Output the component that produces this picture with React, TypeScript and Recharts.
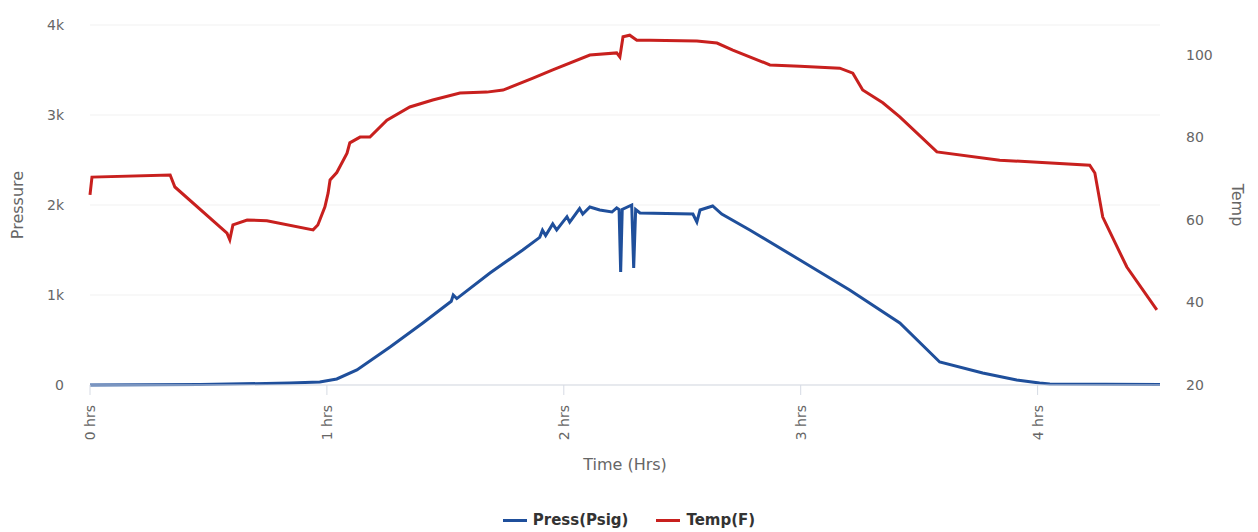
import React from "react";
import { CartesianGrid, Legend, Line, LineChart, XAxis, YAxis } from "recharts";

// time in minutes from start
const pressTime = [
  0, 27.9, 50.6, 58.2, 62.5, 67.6, 76.0, 84.3, 91.5, 92.0, 92.9, 101.3, 109.6,
  113.9, 114.6, 115.4, 117.2, 118.2, 120.8, 121.5, 124.0, 124.8, 126.6, 129.1,
  132.2, 133.4, 134.0, 134.4, 134.8, 137.2, 137.7, 138.2, 139.3, 152.7, 153.7,
  154.5, 157.7, 160.0, 167.1, 179.8, 192.4, 205.1, 215.2, 226.1, 234.7, 240.5,
  243.1, 271,
];
const pressValue = [
  0, 5, 22, 33, 67, 167, 422, 689, 930, 1000, 960, 1244, 1500,
  1640, 1720, 1660, 1790, 1722, 1870, 1810, 1960, 1900, 1978, 1944,
  1922, 1967, 1950, 1256, 1950, 2000, 1300, 1950, 1911, 1900, 1811,
  1944, 1989, 1900, 1722, 1389, 1056, 689, 256, 133, 56, 22,
  11, 5,
];

const tempTime = [
  0, 0.5, 20.3, 21.5, 34.7, 35.4, 36.2, 39.8, 44.8, 56.5, 57.7, 58.2, 59.5,
  60.3, 60.8, 62.5, 65.1, 65.8, 68.4, 70.9, 75.2, 81.0, 86.8, 93.7, 100.5,
  104.6, 112.2, 117.2, 126.6, 133.4, 134.2, 135.0, 136.7, 138.5, 141.8, 153.7,
  158.8, 162.8, 172.2, 179.8, 189.9, 193.2, 195.7, 200.8, 205.1, 214.5, 230.4,
  253.2, 254.5, 256.5, 262.6, 270.2,
];
const tempValue = [
  66.1, 70.4, 70.9, 68.0, 56.8, 55.2, 58.8, 60.0, 59.8, 57.6, 58.8, 60.0, 63.2,
  66.5, 69.7, 71.5, 76.2, 78.7, 80.1, 80.1, 84.2, 87.4, 89.1, 90.8, 91.0,
  91.5, 94.4, 96.4, 100.0, 100.5, 99.5, 104.4, 104.8, 103.6, 103.6, 103.4,
  102.9, 101.2, 97.6, 97.3, 96.8, 95.6, 91.5, 88.4, 85.0, 76.5, 74.5,
  73.3, 71.4, 60.7, 48.6, 38.2,
];

const hourTicks = [0, 60, 120, 180, 240];
const pressureTicks = [0, 1000, 2000, 3000, 4000];
const tempTicks = [20, 40, 60, 80, 100];

const series = [
  { name: "Press(Psig)", color: "#1f4f9b" },
  { name: "Temp(F)", color: "#c8201e" },
];

const pressData = pressTime.map((t, i) => ({ t, press: pressValue[i] }));
const tempData = tempTime.map((t, i) => ({ t, temp: tempValue[i] }));

const font = "'DejaVu Sans', sans-serif";
const textColor = "#666";

function HourTick(props: any) {
  const { x, y, payload } = props;
  return (
    <g>
      <line x1={x} x2={x} y1={y - 8} y2={y + 2} stroke="#d6dbe4" />
      <text
        x={0}
        y={0}
        transform={`translate(${x + 5},${y + 12}) rotate(-90)`}
        textAnchor="end"
        fill={textColor}
        fontSize={14}
        fontFamily={font}
      >
        {`${payload.value / 60} hrs`}
      </text>
    </g>
  );
}

function renderLegend() {
  return (
    <div
      style={{
        display: "flex",
        justifyContent: "center",
        alignItems: "center",
        gap: 28,
        height: 24,
        fontFamily: font,
        fontWeight: "bold",
        fontSize: 15,
        color: "#333",
      }}
    >
      {series.map((s) => (
        <span key={s.name} style={{ display: "flex", alignItems: "center" }}>
          <span style={{ width: 24, height: 3, background: s.color, marginRight: 6 }} />
          {s.name}
        </span>
      ))}
    </div>
  );
}

export default function App() {
  return (
    <LineChart width={1242} height={524} margin={{ top: 17, right: 0, bottom: 0, left: 0 }}>
      <CartesianGrid yAxisId="left" vertical={false} stroke="#f1f1f1" />
      <XAxis
        dataKey="t"
        type="number"
        domain={[0, 271]}
        ticks={hourTicks}
        height={123}
        tick={<HourTick />}
        tickLine={false}
        axisLine={{ stroke: "#d6dbe4" }}
        allowDuplicatedCategory={false}
        label={{
          value: "Time (Hrs)",
          position: "insideBottom",
          offset: 38,
          fill: textColor,
          fontSize: 16,
          fontFamily: font,
        }}
      />
      <YAxis
        yAxisId="left"
        width={82}
        domain={[0, 4000]}
        ticks={pressureTicks}
        tickFormatter={(v: number) => (v === 0 ? "0" : `${v / 1000}k`)}
        axisLine={false}
        tickLine={false}
        tickSize={0}
        tickMargin={26}
        tick={{ fill: textColor, fontSize: 14, fontFamily: font }}
        label={{
          value: "Pressure",
          angle: -90,
          position: "insideLeft",
          offset: 9,
          style: { textAnchor: "middle" },
          fill: textColor,
          fontSize: 16,
          fontFamily: font,
        }}
      />
      <YAxis
        yAxisId="right"
        orientation="right"
        width={90}
        domain={[20, 107.27]}
        ticks={tempTicks}
        axisLine={false}
        tickLine={false}
        tickSize={0}
        tickMargin={26}
        tick={{ fill: textColor, fontSize: 14, fontFamily: font }}
        label={{
          value: "Temp",
          angle: 90,
          position: "insideRight",
          offset: 12,
          style: { textAnchor: "middle" },
          fill: textColor,
          fontSize: 16,
          fontFamily: font,
        }}
      />
      <Legend verticalAlign="bottom" content={renderLegend} />
      <Line
        yAxisId="left"
        data={pressData}
        dataKey="press"
        name={series[0].name}
        stroke={series[0].color}
        strokeWidth={3}
        dot={false}
        isAnimationActive={false}
      />
      <Line
        yAxisId="right"
        data={tempData}
        dataKey="temp"
        name={series[1].name}
        stroke={series[1].color}
        strokeWidth={3}
        dot={false}
        isAnimationActive={false}
      />
    </LineChart>
  );
}
